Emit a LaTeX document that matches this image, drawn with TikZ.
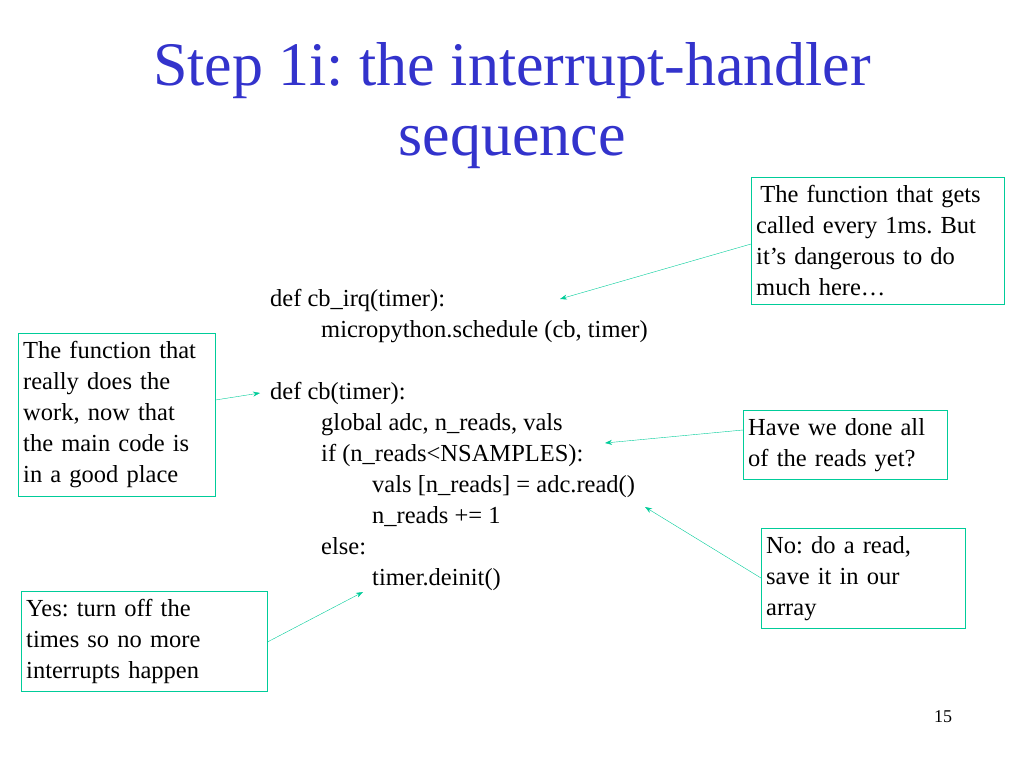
\documentclass[tikz,border=0pt]{standalone}
\usepackage{fontspec}
\setmainfont{Liberation Serif}
\usetikzlibrary{arrows.meta}
\definecolor{titleblue}{RGB}{51,51,204}
\definecolor{noteline}{RGB}{0,204,153}
\frenchspacing
\begin{document}
\begin{tikzpicture}[x=1pt,y=-1pt,
  note/.style={draw=noteline, anchor=north west, align=left, inner xsep=5pt, inner ysep=8pt, font=\fontsize{24.5}{31}\selectfont},
  code/.style={anchor=base west, inner sep=0pt, font=\fontsize{24.5}{31}\selectfont},
  pointer/.style={draw=noteline, -{Stealth[length=7pt,width=5pt]}}
]
  \useasboundingbox (0,0) rectangle (1024,768);
  % title
  \node[align=center, text=titleblue, font=\fontsize{62}{70}\selectfont] (title) at (512,106) {Step 1i: the interrupt-handler\\sequence};
  % code
  \node[code] (l1) at (270,306) {def cb\_irq(timer):};
  \node[code] (l2) at (321,337) {micropython.schedule (cb, timer)};
  \node[code] (l3) at (270,399) {def cb(timer):};
  \node[code] (l4) at (321,430) {global adc, n\_reads, vals};
  \node[code] (l5) at (321,461) {if (n\_reads<NSAMPLES):};
  \node[code] (l6) at (372,492) {vals [n\_reads] = adc.read()};
  \node[code] (l7) at (372,523) {n\_reads += 1};
  \node[code] (l8) at (321,554) {else:};
  \node[code] (l9) at (372,585) {timer.deinit()};
  % notes
  \node[note, text width=243pt] (every) at (751,177) {\,The function that gets\\called every 1ms. But\\it’s dangerous to do\\much here…};
  \node[note, text width=187pt] (work) at (18,333) {The function that\\really does the\\work, now that\\the main code is\\in a good place};
  \node[note, text width=194pt] (done) at (743,410) {Have we done all\\of the reads yet?};
  \node[note, text width=194pt] (read) at (761,528) {No: do a read,\\save it in our\\array};
  \node[note, text width=236pt] (stop) at (21,591) {Yes: turn off the\\times so no more\\interrupts happen};
  \node[font=\fontsize{18}{20}\selectfont] (page) at (943,717) {15};
  % pointers
  \coordinate (t1) at (560,299);
  \coordinate (t2) at (260,393);
  \coordinate (t3) at (605,443);
  \coordinate (t4) at (645,507);
  \coordinate (t5) at (363,592);
  \draw[pointer] (every.west |- 0,244) -- (t1);
  \draw[pointer] (work.east |- 0,400) -- (t2);
  \draw[pointer] (done.west |- 0,430) -- (t3);
  \draw[pointer] (read.west |- 0,578) -- (t4);
  \draw[pointer] (stop.east |- 0,642) -- (t5);
\end{tikzpicture}
\end{document}
